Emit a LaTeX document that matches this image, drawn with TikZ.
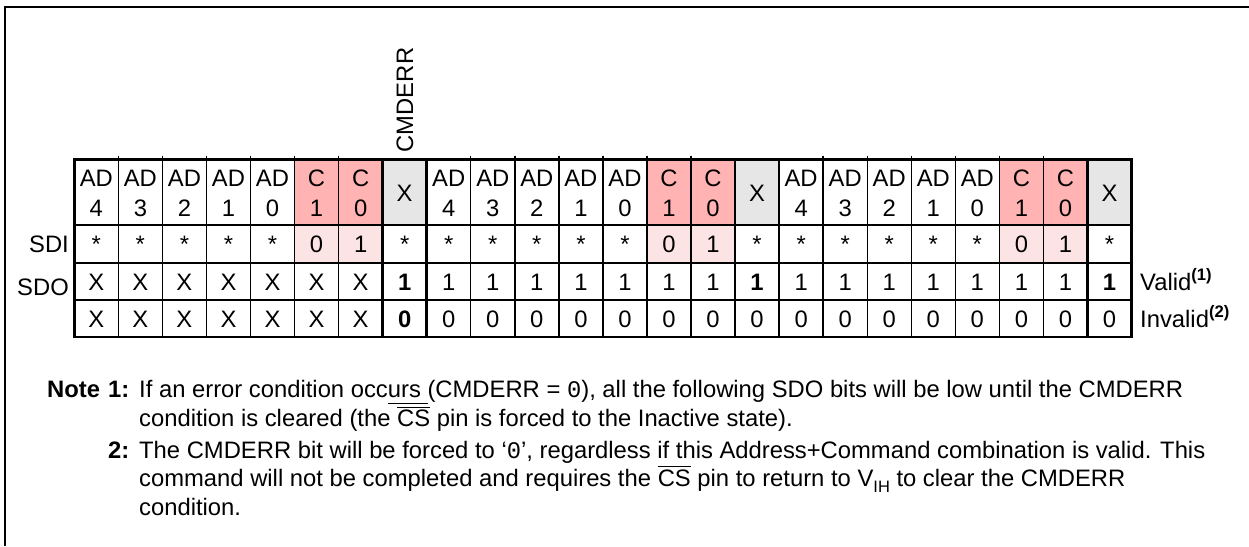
\documentclass[tikz,border=0pt]{standalone}
\usepackage{fontspec}
\setmainfont{Liberation Sans}
\newfontfamily\monofont{Liberation Mono}
\definecolor{cpink}{RGB}{255,179,179}
\definecolor{cpale}{RGB}{253,228,228}
\definecolor{cgray}{RGB}{230,230,230}
\newcommand\myul[1]{\setbox0\hbox{#1}\rlap{\rule[-6.5pt]{\wd0}{1pt}}\box0\relax}
\newcommand\myol[2]{\setbox0\hbox{#2}\rlap{\rule[#1]{\wd0}{1pt}}\box0\relax}
\begin{document}
\begin{tikzpicture}[x=1pt,y=-1pt,
  font=\fontsize{23.8}{30}\selectfont,
  cell/.style={inner sep=0pt, text height=17pt, text depth=0pt, anchor=center},
  hd/.style={inner sep=0pt, align=center, anchor=center},
  note/.style={inner sep=0pt, anchor=base west},
  grid/.style={line width=2.5pt},
  thin/.style={line width=1.4pt},
  frame/.style={line width=2pt, line join=miter}]
\useasboundingbox (0,0) rectangle (1249,546);
\fill[white] (0,0) rectangle (1249,546);
\draw[frame] (5,546) -- (5,7) -- (1249,7);
% fills
\foreach \c in {6,7,14,15,22,23}{
  \fill[cpink] ({74.3+(\c-1)*44.05},159.3) rectangle ({74.3+\c*44.05},225);
  \fill[cpale] ({74.3+(\c-1)*44.05},225) rectangle ({74.3+\c*44.05},263);
}
\foreach \c in {8,16,24}{
  \fill[cgray] ({74.3+(\c-1)*44.05},159.3) rectangle ({74.3+\c*44.05},225);
}
% header
\foreach \t [count=\i] in {{AD\\4},{AD\\3},{AD\\2},{AD\\1},{AD\\0},{C\\1},{C\\0},X,
  {AD\\4},{AD\\3},{AD\\2},{AD\\1},{AD\\0},{C\\1},{C\\0},X,
  {AD\\4},{AD\\3},{AD\\2},{AD\\1},{AD\\0},{C\\1},{C\\0},X}
  \node[hd] (h\i) at ({74.3+(\i-0.5)*44.05},193) {\t};
% SDI
\foreach \t [count=\i] in {*,*,*,*,*,0,1,*,*,*,*,*,*,0,1,*,*,*,*,*,*,0,1,*}
  \node[cell] (s\i) at ({74.3+(\i-0.5)*44.05},244) {\t};
% Valid
\foreach \t [count=\i] in {X,X,X,X,X,X,X,\textbf{1},1,1,1,1,1,1,1,\textbf{1},1,1,1,1,1,1,1,\textbf{1}}
  \node[cell] (v\i) at ({74.3+(\i-0.5)*44.05},281.5) {\t};
% Invalid
\foreach \t [count=\i] in {X,X,X,X,X,X,X,\textbf{0},0,0,0,0,0,0,0,0,0,0,0,0,0,0,0,0}
  \node[cell] (n\i) at ({74.3+(\i-0.5)*44.05},318.5) {\t};
% grid lines
\foreach \y in {159.3,225,263,300,337}
  \draw[grid] (73,\y) -- (1132.8,\y);
\foreach \c in {1,2,3,4,5,6,9,10,11,12,13,14,17,18,19,20,21,22}
  \draw[thin] ({74.3+\c*44.05},155.5) -- ({74.3+\c*44.05},337);
\foreach \c in {0,7,8,15,16,23,24}
  \draw[grid] ({74.3+\c*44.05},159.3) -- ({74.3+\c*44.05},337);
% labels
\node[cell, anchor=east] (sdi) at (69,244) {SDI};
\node[cell, anchor=east] (sdo) at (69,287) {SDO};
\node[cell, anchor=west] (valid) at (1140,281.5) {Valid\textsuperscript{\textbf{(1)}}};
\node[cell, anchor=west] (invalid) at (1140,318.5) {Invalid\textsuperscript{\textbf{(2)}}};
\node[cell, rotate=90] (cmderr) at ({74.3+7.5*44.05},100) {CMDERR};
% notes
\node[note] (nt) at (47,397) {\textbf{Note}};
\node[note] (n1) at (108,397) {\textbf{1:}};
\node[note] (n1a) at (139,397) {If an error condition occ\myul{urs }(CMDERR = {\monofont 0}), all the following SDO bits will be low until the CMDERR};
\node[note] (n1b) at (139,426) {condition is cleared (the \myol{18.5pt}{CS} pin is forced to the Inactive state).};
\node[note] (n2) at (108,458) {\textbf{2:}};
\node[note] (n2a) at (139,458) {The CMDERR bit will be forced to `{\monofont 0}', regardless if this Address+Command combination is valid. This};
\node[note] (n2b) at (139,486.5) {command will not be completed and requires the \myol{20pt}{CS} pin to return to V\raisebox{-5.5pt}{\fontsize{16.5}{16.5}\selectfont IH} to clear the CMDERR};
\node[note] (n2c) at (139,515) {condition.};
\end{tikzpicture}
\end{document}
